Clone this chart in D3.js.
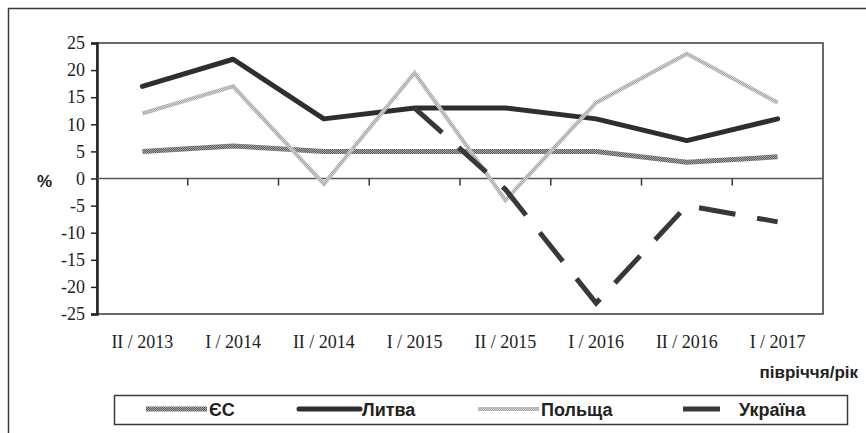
<!DOCTYPE html>
<html>
<head>
<meta charset="utf-8">
<script src="https://cdn.jsdelivr.net/npm/d3@7/dist/d3.min.js"></script>
<style>
  html, body { margin: 0; padding: 0; background: #fff; }
  svg { display: block; }
</style>
</head>
<body>
<svg id="chart" width="866" height="433"></svg>
<script>
// Half-year periods and growth rates (%)
const periods = ["II / 2013", "I / 2014", "II / 2014", "I / 2015", "II / 2015", "I / 2016", "II / 2016", "I / 2017"];
const yTicks = [25, 20, 15, 10, 5, 0, -5, -10, -15, -20, -25];
const euValues        = [5, 6, 5, 5, 5, 5, 3, 4];
const lithuaniaValues = [17, 22, 11, 13, 13, 11, 7, 11];
const polandValues    = [12, 17, -1, 19.5, -4, 14, 23, 14];
const ukraineValues   = [null, null, null, 13, -2, -23, -5, -8];
const seriesNames = ["ЄС", "Литва", "Польща", "Україна"];

(function () {
const svg = d3.select("#chart");
const defs = svg.append("defs");

// Fine checkered textures used as stroke paints
function texture(id, base, dot) {
  const p = defs.append("pattern").attr("id", id)
    .attr("patternUnits", "userSpaceOnUse").attr("width", 2).attr("height", 2);
  p.append("rect").attr("width", 2).attr("height", 2).attr("fill", base);
  p.append("rect").attr("x", 0).attr("y", 0).attr("width", 1).attr("height", 1).attr("fill", dot);
  p.append("rect").attr("x", 1).attr("y", 1).attr("width", 1).attr("height", 1).attr("fill", dot);
}
texture("texEU", "#5a5a5a", "#a8a8a8");
texture("texPL", "#a6a6a6", "#d2d2d2");

const styles = [
  { stroke: "url(#texEU)", width: 5, dash: null, cap: "butt" },
  { stroke: "#2e2e2e", width: 5, dash: null, cap: "round" },
  { stroke: "url(#texPL)", width: 4, dash: null, cap: "butt" },
  { stroke: "#383838", width: 5, dash: "37,22", cap: "butt" }
];
const seriesValues = [euValues, lithuaniaValues, polandValues, ukraineValues];

// Outer frame (only top and left edges fall inside the view)
svg.append("rect")
  .attr("x", 8.5).attr("y", 8.5).attr("width", 1000).attr("height", 600)
  .attr("fill", "none").attr("stroke", "#3a3a3a").attr("stroke-width", 1.5);

const plotLeft = 97, plotRight = 823, plotTop = 43, plotBottom = 314;

const x = d3.scaleBand().domain(periods).range([plotLeft, plotRight]).padding(0);
const y = d3.scaleLinear().domain([-25, 25]).range([plotBottom, plotTop]);

// Plot area border
svg.append("rect")
  .attr("x", plotLeft).attr("y", plotTop).attr("width", plotRight - plotLeft).attr("height", plotBottom - plotTop)
  .attr("fill", "none").attr("stroke", "#3a3a3a").attr("stroke-width", 1.5);

// Y axis
const yAxis = d3.axisLeft(y).tickValues(yTicks).tickSize(6).tickPadding(6).tickFormat(d3.format("d"));
const yg = svg.append("g").attr("transform", `translate(${plotLeft},0)`).call(yAxis);
yg.select(".domain").attr("stroke", "#222").attr("stroke-width", 2.5);
yg.selectAll(".tick line").attr("stroke", "#222").attr("stroke-width", 1.5);
yg.selectAll(".tick text")
  .attr("font-family", "'Liberation Serif', 'Times New Roman', serif")
  .attr("font-size", 18).attr("fill", "#222")
  .text(d => d < 0 ? "-" + Math.abs(d) : d);

// Zero line with ticks between categories
svg.append("line")
  .attr("x1", plotLeft).attr("x2", plotRight).attr("y1", y(0)).attr("y2", y(0))
  .attr("stroke", "#555").attr("stroke-width", 1.5);
svg.append("g").selectAll("line")
  .data(periods.slice(1))
  .join("line")
  .attr("x1", d => x(d)).attr("x2", d => x(d))
  .attr("y1", y(0)).attr("y2", y(0) + 7)
  .attr("stroke", "#333").attr("stroke-width", 1.5);

// Category labels along the bottom
svg.append("g").selectAll("text")
  .data(periods)
  .join("text")
  .attr("x", d => x(d) + x.bandwidth() / 2)
  .attr("y", 348)
  .attr("text-anchor", "middle")
  .attr("font-family", "'Liberation Serif', 'Times New Roman', serif")
  .attr("font-size", 18).attr("fill", "#222")
  .text(d => d);

// Axis titles
svg.append("text")
  .attr("x", 37).attr("y", 187)
  .attr("font-family", "'Liberation Sans', Arial, sans-serif")
  .attr("font-weight", "bold").attr("font-size", 17).attr("fill", "#222")
  .text("%");
svg.append("text")
  .attr("x", 858).attr("y", 378)
  .attr("text-anchor", "end")
  .attr("font-family", "'Liberation Sans', Arial, sans-serif")
  .attr("font-weight", "bold").attr("font-size", 17).attr("fill", "#222")
  .text("півріччя/рік");

// Series lines
const line = d3.line()
  .defined(d => d != null)
  .x((d, i) => x(periods[i]) + x.bandwidth() / 2)
  .y(d => y(d));

seriesValues.forEach((vals, k) => {
  const s = styles[k];
  svg.append("path")
    .datum(vals)
    .attr("d", line)
    .attr("fill", "none")
    .attr("stroke", s.stroke)
    .attr("stroke-width", s.width)
    .attr("stroke-linecap", s.cap)
    .attr("stroke-linejoin", s.cap === "round" ? "round" : "miter")
    .attr("stroke-dasharray", s.dash);
});

// Legend
svg.append("rect")
  .attr("x", 114.5).attr("y", 395.5).attr("width", 733).attr("height", 29)
  .attr("fill", "#fff").attr("stroke", "#3a3a3a").attr("stroke-width", 1.5);

const legendItems = [
  { x1: 146, x2: 207, tx: 209 },
  { x1: 299, x2: 360, tx: 362 },
  { x1: 478, x2: 539, tx: 541 },
  { x1: 683, x2: 720, tx: 739 }
];
const lg = svg.append("g");
seriesNames.forEach((name, k) => {
  const s = styles[k], pos = legendItems[k];
  lg.append("line")
    .attr("x1", pos.x1).attr("x2", pos.x2).attr("y1", 409).attr("y2", 409)
    .attr("stroke", s.stroke).attr("stroke-width", s.width)
    .attr("stroke-linecap", s.cap);
  lg.append("text")
    .attr("x", pos.tx).attr("y", 415.5)
    .attr("font-family", "'Liberation Sans', Arial, sans-serif")
    .attr("font-weight", "bold").attr("font-size", 18).attr("fill", "#222")
    .text(name);
});
})();
</script>
</body>
</html>
